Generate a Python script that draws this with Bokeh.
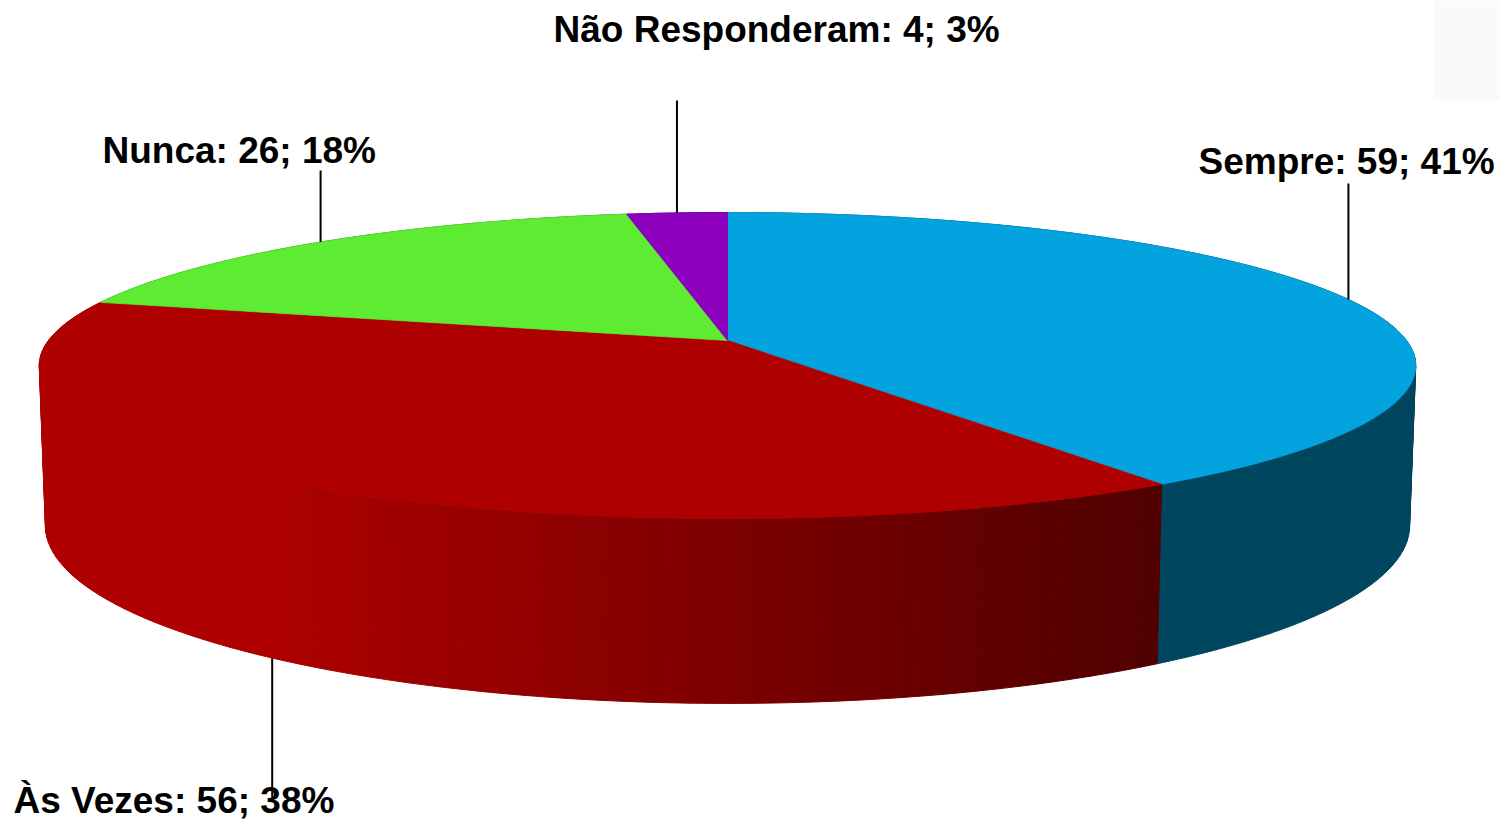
import numpy as np
from bokeh.plotting import figure
from bokeh.models import Range1d, BoxAnnotation, ColumnDataSource
from bokeh.core.properties import value
from bokeh.embed import file_html
from bokeh.resources import INLINE

# ---- data ----
categories = ["Sempre", "Às Vezes", "Nunca", "Não Responderam"]
counts = [59, 56, 26, 4]
percents = [41, 38, 18, 3]

# ---- styles ----
top_colors = ["#03A3E0", "#AE0000", "#5DEC32", "#8C00BE"]
side_rgb = [(0, 70, 95), (174, 0, 0), (40, 110, 20), (70, 0, 95)]
gradient_side = [False, True, False, False]

# ---- label layout (screen positions) ----
label_x = [1198, 13, 102, 553]
label_base = [161, 800, 150, 29]
leader_end = [183, 800, 170, 100]

# ---- 3D perspective projection of the pie disc ----
CX, CY = 727.0, 340.0
RX = 679.0
K = 148.9
C = -0.1634
G = 157.9
E = 0.00876


def top_pt(th):
    u, v = np.sin(th), -np.cos(th)
    d = 1 + C * v
    return CX + RX * u / d, CY + K * v / d


def bot_pt(th):
    u, v = np.sin(th), -np.cos(th)
    d = 1 + C * v + E
    return CX + RX * u / d, CY + (K * v + G) / d


total = float(sum(counts))
fracs = np.array(counts) / total
ends = np.cumsum(fracs) * 2 * np.pi
starts = np.concatenate([[0.0], ends[:-1]])

# side strips
strips = []
for i in range(len(counts)):
    a0, a1 = starts[i], ends[i]
    n = max(2, int(np.degrees(a1 - a0) / 1.5))
    angs = np.linspace(a0, a1, n + 1)
    for j in range(n):
        t1, t2 = angs[j], angs[j + 1]
        x1, y1 = top_pt(t1)
        x2, y2 = top_pt(t2)
        x3, y3 = bot_pt(t2)
        x4, y4 = bot_pt(t1)
        xm = (x1 + x2) / 2
        r, g, b = side_rgb[i]
        if gradient_side[i]:
            f = min(1.0, max(0.0, (174 - 0.105 * (xm - 260)) / 174.0))
            r, g, b = int(round(r * f)), int(round(g * f)), int(round(b * f))
        col = "#%02x%02x%02x" % (r, g, b)
        vm = -np.cos((t1 + t2) / 2)
        strips.append((vm, [x1, x2, x3, x4], [y1, y2, y3, y4], col))

strips.sort(key=lambda s: s[0])

p = figure(width=1500, height=821,
           x_range=Range1d(0, 1500), y_range=Range1d(821, 0),
           output_backend="svg", toolbar_location=None,
           x_axis_type=None, y_axis_type=None,
           min_border=0, outline_line_color=None)
p.background_fill_color = "white"
p.border_fill_color = "white"

p.add_layout(BoxAnnotation(left=1433, right=1500, top=0, bottom=100,
                           fill_color="#FAFAFA", fill_alpha=1.0, line_color=None))

side_src = ColumnDataSource(dict(
    xs=[s[1] for s in strips], ys=[s[2] for s in strips], c=[s[3] for s in strips]))
p.patches("xs", "ys", source=side_src, fill_color="c", line_color="c", line_width=1)

# top faces
txs, tys = [], []
for i in range(len(counts)):
    angs = np.linspace(starts[i], ends[i], 200)
    pts = [top_pt(a) for a in angs]
    txs.append([CX] + [q[0] for q in pts])
    tys.append([CY] + [q[1] for q in pts])
top_src = ColumnDataSource(dict(xs=txs, ys=tys, c=top_colors))
p.patches("xs", "ys", source=top_src, fill_color="c", line_color="c", line_width=0.8)

# leader lines
lx0, ly0, lx1, ly1 = [], [], [], []
for i in range(len(counts)):
    mid = (starts[i] + ends[i]) / 2
    v = -np.cos(mid)
    x, y = bot_pt(mid) if v > 0.3 else top_pt(mid)
    lx0.append(x); ly0.append(y); lx1.append(x); ly1.append(leader_end[i])
p.segment(lx0, ly0, lx1, ly1, line_color="black", line_width=2)

labels = ["%s: %d; %d%%" % (c, n, pc) for c, n, pc in zip(categories, counts, percents)]
lab_src = ColumnDataSource(dict(x=label_x, y=label_base, t=labels))
p.text("x", "y", text="t", source=lab_src, text_font=value("Liberation Sans"),
       text_font_style="bold", text_font_size="37px", text_align="left",
       text_baseline="alphabetic", text_color="black")

open("out.html", "w").write(file_html(p, INLINE))
